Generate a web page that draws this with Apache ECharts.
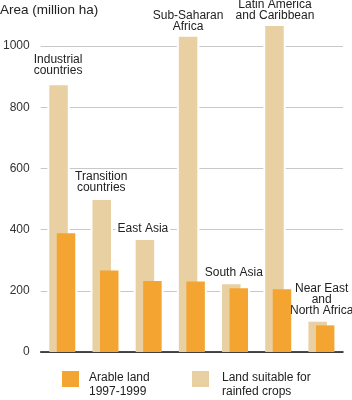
<!DOCTYPE html>
<html>
<head>
<meta charset="utf-8">
<script src="https://cdn.jsdelivr.net/npm/echarts@6/dist/echarts.min.js"></script>
<style>html,body{margin:0;padding:0;background:#fff}#c{width:352px;height:400px}</style>
</head>
<body>
<div id="c"></div>
<script>
const categories = ['Industrial countries', 'Transition countries', 'East Asia', 'Sub-Saharan Africa', 'South Asia', 'Latin America and Caribbean', 'Near East and North Africa'];
const categoryLabels = ['Industrial\ncountries', 'Transition\ncountries', 'East Asia', 'Sub-Saharan\nAfrica', 'South Asia', 'Latin America\nand Caribbean', 'Near East\nand\nNorth Africa'];
const arableLand = [388, 266, 232, 230, 208, 205, 87];
const suitableLand = [872, 497, 366, 1030, 221, 1065, 99];
const yTicks = [0, 200, 400, 600, 800, 1000];
const legendNames = ['Arable land\n1997-1999', 'Land suitable for\nrainfed crops'];

const labelDistance = [8.5, 6.5, 5.5, 5, 6.5, 5, 5.5];
const labelDx = [-0.5, -0.5, -2, 0, 2.5, 0.5, 4];

const TAN = '#E9D0A3';
const ORANGE = '#F3A431';
const BAR_W = 18.5;
const SHIFT = 3.75;
const FONT = 'Liberation Sans, Arial, sans-serif';

const chart = echarts.init(document.getElementById('c'), null, {renderer: 'canvas'});

function legendItem(x, color, textX, text) {
  return [
    {type: 'rect', left: x, top: 371, shape: {width: 17, height: 16}, style: {fill: color}},
    {type: 'text', left: textX, top: 371, style: {text: text, fontSize: 12, lineHeight: 14, fill: '#222', font: '12px ' + FONT}}
  ];
}

chart.setOption({
  animation: false,
  textStyle: {fontFamily: FONT},
  title: {
    text: 'Area (million ha)', left: 0, top: 3, padding: 0,
    textStyle: {fontSize: 13.5, fontWeight: 'normal', color: '#222', fontFamily: FONT}
  },
  grid: {left: 38, right: 9, top: 46, bottom: 48, containLabel: false},
  graphic: [].concat(
    legendItem(62, ORANGE, 89, legendNames[0]),
    legendItem(192, TAN, 222, legendNames[1])
  ),
  xAxis: {
    type: 'category', data: categories,
    axisLine: {lineStyle: {color: '#111', width: 1.5}},
    axisTick: {show: false}, axisLabel: {show: false}, splitLine: {show: false}
  },
  yAxis: {
    type: 'value', min: yTicks[0], max: yTicks[yTicks.length - 1], interval: 200,
    axisLine: {show: false}, axisTick: {show: false},
    axisLabel: {fontSize: 12, color: '#333', margin: 11, formatter: v => String(v)},
    splitLine: {lineStyle: {color: '#c8c8c8', width: 1}}
  },
  series: [
    {
      type: 'custom', z: 1, silent: true,
      data: categories.map((c, i) => [i, suitableLand[i], arableLand[i]]),
      encode: {x: 0, y: [1, 2]},
      renderItem: function (params, api) {
        const i = api.value(0);
        const base = api.coord([i, 0]);
        const tTop = api.coord([i, api.value(1)])[1];
        const oTop = api.coord([i, api.value(2)])[1];
        const pad = 2;
        const bottom = base[1] - 2;
        return {
          type: 'group',
          children: [
            {type: 'rect', shape: {x: base[0] - SHIFT - BAR_W / 2 - pad, y: tTop, width: BAR_W + 2 * pad, height: bottom - tTop}, style: {fill: '#fff'}},
            {type: 'rect', shape: {x: base[0] + SHIFT - BAR_W / 2 - pad, y: oTop, width: BAR_W + 2 * pad, height: bottom - oTop}, style: {fill: '#fff'}}
          ]
        };
      }
    },
    {
      name: 'Land suitable for rainfed crops', type: 'bar', z: 2, clip: false,
      barWidth: BAR_W, barGap: '-59.5%',
      itemStyle: {color: TAN},
      data: suitableLand.map((v, i) => ({
        value: v,
        label: {distance: labelDistance[i], offset: [labelDx[i], 0]}
      })),
      label: {
        show: true, position: 'top',
        formatter: p => categoryLabels[p.dataIndex],
        fontSize: 12, lineHeight: 11, color: '#222',
        backgroundColor: '#fff', padding: [0, 2]
      }
    },
    {
      name: 'Arable land 1997-1999', type: 'bar', z: 3, clip: false,
      barWidth: BAR_W, barGap: '-59.5%',
      itemStyle: {color: ORANGE},
      data: arableLand
    }
  ]
});
</script>
</body>
</html>
